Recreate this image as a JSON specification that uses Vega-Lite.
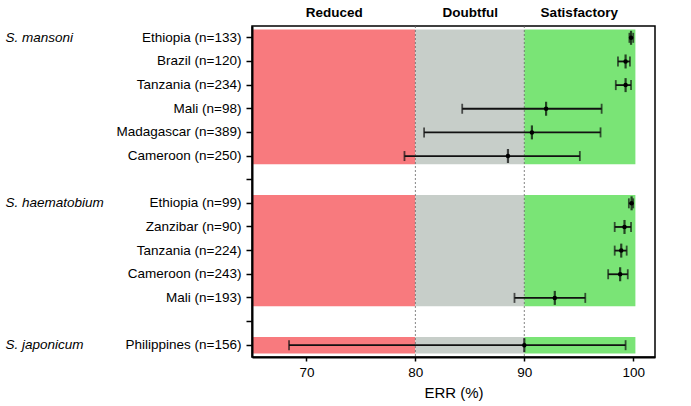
{
  "$schema": "https://vega.github.io/schema/vega-lite/v6.json",
  "width": 403,
  "height": 331,
  "config": {
    "font": "Liberation Sans",
    "view": {"stroke": "#000", "strokeWidth": 1.5},
    "axis": {"labelColor": "#000", "titleColor": "#000", "labelFont": "Liberation Sans", "titleFont": "Liberation Sans"}
  },
  "datasets": {
    "err": [
      {"group": "S. mansoni", "row": "Ethiopia (n=133)", "est": 99.8, "lo": 99.65, "hi": 100.0},
      {"group": "S. mansoni", "row": "Brazil (n=120)", "est": 99.3, "lo": 98.6, "hi": 99.7},
      {"group": "S. mansoni", "row": "Tanzania (n=234)", "est": 99.3, "lo": 98.4, "hi": 99.8},
      {"group": "S. mansoni", "row": "Mali (n=98)", "est": 92.0, "lo": 84.3, "hi": 97.1},
      {"group": "S. mansoni", "row": "Madagascar (n=389)", "est": 90.7, "lo": 80.8, "hi": 97.0},
      {"group": "S. mansoni", "row": "Cameroon (n=250)", "est": 88.5, "lo": 79.0, "hi": 95.1},
      {"group": "S. haematobium", "row": "Ethiopia (n=99)", "est": 99.85, "lo": 99.6, "hi": 100.0},
      {"group": "S. haematobium", "row": "Zanzibar (n=90)", "est": 99.2, "lo": 98.3, "hi": 99.8},
      {"group": "S. haematobium", "row": "Tanzania (n=224)", "est": 98.9, "lo": 98.3, "hi": 99.4},
      {"group": "S. haematobium", "row": "Cameroon (n=243)", "est": 98.8, "lo": 97.7, "hi": 99.5},
      {"group": "S. haematobium", "row": "Mali (n=193)", "est": 92.8, "lo": 89.1, "hi": 95.6},
      {"group": "S. japonicum", "row": "Philippines (n=156)", "est": 90.0, "lo": 68.4, "hi": 99.3}
    ],
    "groups": [
      {"group": "S. mansoni", "first": "Ethiopia (n=133)", "last": "Cameroon (n=250)"},
      {"group": "S. haematobium", "first": "Ethiopia (n=99)", "last": "Mali (n=193)"},
      {"group": "S. japonicum", "first": "Philippines (n=156)", "last": "Philippines (n=156)"}
    ],
    "cuts": [{"cut": 80}, {"cut": 90}]
  },
  "data": {"name": "err"},
  "resolve": {"axis": {"x": "independent", "y": "independent"}},
  "layer": [
    {
      "data": {"name": "groups"},
      "mark": {"type": "rect", "color": "#F87A7E"},
      "encoding": {
        "y": {
          "field": "first", "type": "nominal", "bandPosition": 0.15,
          "scale": {
            "domain": ["Ethiopia (n=133)", "Brazil (n=120)", "Tanzania (n=234)", "Mali (n=98)", "Madagascar (n=389)", "Cameroon (n=250)", " ",
                       "Ethiopia (n=99)", "Zanzibar (n=90)", "Tanzania (n=224)", "Cameroon (n=243)", "Mali (n=193)", "  ", "Philippines (n=156)"],
            "paddingInner": 0, "paddingOuter": 0
          },
          "axis": {"orient": "left", "title": null, "labelFontSize": 13.5, "labelPadding": 5, "tickSize": 6, "tickWidth": 1.5, "tickColor": "#000", "domainColor": "#000", "domainWidth": 2, "grid": false}
        },
        "y2": {"field": "last", "bandPosition": 0.85},
        "x": {
          "datum": 65, "type": "quantitative",
          "scale": {"domain": [65, 102], "nice": false, "zero": false},
          "axis": {"orient": "bottom", "title": "ERR (%)", "titleFontSize": 15, "titleFontWeight": "normal", "titlePadding": 7, "values": [70, 80, 90, 100], "labelFontSize": 13.5, "labelPadding": 4, "tickSize": 4, "tickColor": "#000", "tickWidth": 1.5, "domainColor": "#000", "domainWidth": 2, "grid": false, "labelFlush": false}
        },
        "x2": {"datum": 80}
      }
    },
    {
      "data": {"name": "groups"},
      "mark": {"type": "rect", "color": "#C7CEC9"},
      "encoding": {
        "y": {"field": "first", "type": "nominal", "bandPosition": 0.15, "axis": null},
        "y2": {"field": "last", "bandPosition": 0.85},
        "x": {"datum": 80, "type": "quantitative", "axis": null},
        "x2": {"datum": 90}
      }
    },
    {
      "data": {"name": "groups"},
      "mark": {"type": "rect", "color": "#7AE476"},
      "encoding": {
        "y": {"field": "first", "type": "nominal", "bandPosition": 0.15, "axis": null},
        "y2": {"field": "last", "bandPosition": 0.85},
        "x": {"datum": 90, "type": "quantitative", "axis": null},
        "x2": {"datum": 100.2}
      }
    },
    {
      "data": {"name": "cuts"},
      "mark": {"type": "rule", "color": "#666", "strokeWidth": 0.8, "strokeDash": [2, 2]},
      "encoding": {
        "x": {"field": "cut", "type": "quantitative", "axis": null}
      }
    },
    {
      "mark": {"type": "rule", "color": "#111", "strokeWidth": 1.8},
      "encoding": {
        "y": {"field": "row", "type": "nominal",
          "axis": {"orient": "right", "offset": -650, "title": null, "domain": false, "ticks": false, "tickSize": 0, "labelPadding": 0, "labelAlign": "left", "labelFontSize": 13.5, "labelFontStyle": "italic", "grid": false,
            "labelExpr": "datum.value == 'Ethiopia (n=133)' ? 'S. mansoni' : datum.value == 'Ethiopia (n=99)' ? 'S. haematobium' : datum.value == 'Philippines (n=156)' ? 'S. japonicum' : ''"}},
        "x": {"field": "lo", "type": "quantitative",
          "axis": {"orient": "top", "title": null, "domain": false, "ticks": false, "grid": false, "labelPadding": 7, "labelFontSize": 13.5, "labelFontWeight": "bold", "labelFlush": false, "values": [72.5, 85, 95],
            "labelExpr": "datum.value == 72.5 ? 'Reduced' : datum.value == 85 ? 'Doubtful' : 'Satisfactory'"}},
        "x2": {"field": "hi"}
      }
    },
    {
      "mark": {"type": "tick", "color": "#111", "orient": "vertical", "size": 10, "thickness": 1.8},
      "encoding": {
        "y": {"field": "row", "type": "nominal", "axis": null},
        "x": {"field": "lo", "type": "quantitative", "axis": null}
      }
    },
    {
      "mark": {"type": "tick", "color": "#111", "orient": "vertical", "size": 10, "thickness": 1.8},
      "encoding": {
        "y": {"field": "row", "type": "nominal", "axis": null},
        "x": {"field": "hi", "type": "quantitative", "axis": null}
      }
    },
    {
      "mark": {"type": "tick", "color": "#000", "orient": "vertical", "size": 14, "thickness": 2.2},
      "encoding": {
        "y": {"field": "row", "type": "nominal", "axis": null},
        "x": {"field": "est", "type": "quantitative", "axis": null}
      }
    },
    {
      "mark": {"type": "point", "filled": true, "color": "#000", "size": 20, "opacity": 1},
      "encoding": {
        "y": {"field": "row", "type": "nominal", "axis": null},
        "x": {"field": "est", "type": "quantitative", "axis": null}
      }
    }
  ]
}
